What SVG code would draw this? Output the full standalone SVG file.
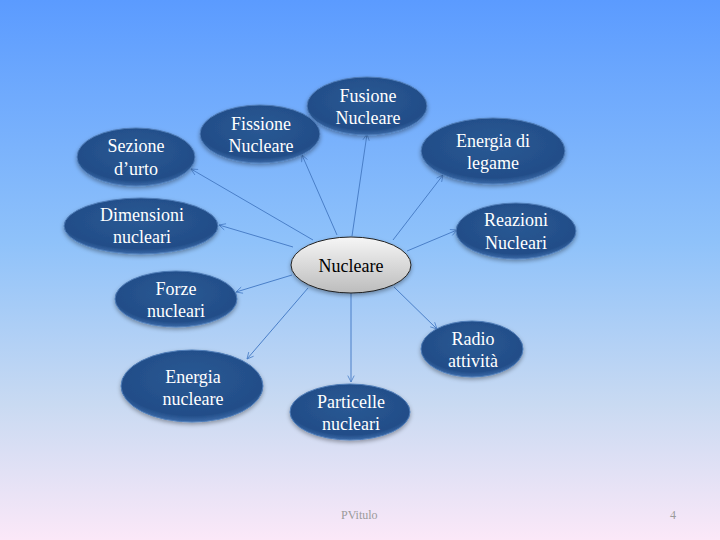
<svg xmlns="http://www.w3.org/2000/svg" width="720" height="540" viewBox="0 0 720 540">
<defs>
<linearGradient id="bg" x1="0" y1="0" x2="0" y2="1">
<stop offset="0" stop-color="#5b9bff"/>
<stop offset="0.45" stop-color="#8fc2fa"/>
<stop offset="0.75" stop-color="#c9daf2"/>
<stop offset="1" stop-color="#fbe8f8"/>
</linearGradient>
<radialGradient id="blue" cx="0.5" cy="0.4" r="0.6">
<stop offset="0" stop-color="#2a5994"/>
<stop offset="0.85" stop-color="#224d88"/>
<stop offset="1" stop-color="#3b6aa8"/>
</radialGradient>
<linearGradient id="gray" x1="0" y1="0" x2="0" y2="1">
<stop offset="0" stop-color="#f6f6f6"/>
<stop offset="1" stop-color="#bcbcbc"/>
</linearGradient>
<filter id="sh" x="-20%" y="-20%" width="140%" height="150%">
<feDropShadow dx="0" dy="2" stdDeviation="2" flood-color="#000" flood-opacity="0.35"/>
</filter>
<marker id="arr" viewBox="0 0 10 10" refX="9" refY="5" markerWidth="8" markerHeight="8" orient="auto" markerUnits="userSpaceOnUse">
<path d="M1,1 L9,5 L1,9" fill="none" stroke="#4a7fc8" stroke-width="1"/>
</marker>
<style>
.n{fill:url(#blue);stroke:#4f7db8;stroke-width:1;filter:url(#sh)}
.t{font-family:'Liberation Serif','DejaVu Serif',serif;font-size:18px;fill:#fff;text-anchor:middle}
.c{fill:none;stroke:#4a7fc8;stroke-width:1;marker-end:url(#arr)}
.f{font-family:'Liberation Serif','DejaVu Serif',serif;font-size:12px;fill:#9a9a9a}
</style>
</defs>
<rect width="720" height="540" fill="url(#bg)"/>
<g id="connectors">
<line class="c" x1="352" y1="236" x2="367" y2="134"/>
<line class="c" x1="337" y1="235" x2="302" y2="155"/>
<line class="c" x1="313" y1="240" x2="191" y2="169"/>
<line class="c" x1="293" y1="247" x2="219" y2="225"/>
<line class="c" x1="292" y1="275" x2="236" y2="292"/>
<line class="c" x1="308" y1="288" x2="247" y2="359"/>
<line class="c" x1="351" y1="293" x2="351" y2="382"/>
<line class="c" x1="394" y1="287" x2="437" y2="329"/>
<line class="c" x1="407" y1="251" x2="457" y2="230"/>
<line class="c" x1="393" y1="240" x2="443" y2="175"/>
</g>
<g font-family="Liberation Serif, DejaVu Serif, serif">
<g id="fusione"><ellipse class="n" cx="367" cy="106" rx="60" ry="29"/><text class="t" x="368" y="102">Fusione</text><text class="t" x="368" y="124">Nucleare</text></g>
<g id="fissione"><ellipse class="n" cx="260" cy="134" rx="60" ry="29"/><text class="t" x="261" y="130">Fissione</text><text class="t" x="261" y="152">Nucleare</text></g>
<g id="sezione"><ellipse class="n" cx="136" cy="157" rx="59" ry="29"/><text class="t" x="136" y="152">Sezione</text><text class="t" x="136" y="175">d’urto</text></g>
<g id="energia-legame"><ellipse class="n" cx="493" cy="151" rx="72" ry="33"/><text class="t" x="493" y="147">Energia di</text><text class="t" x="493" y="169">legame</text></g>
<g id="dimensioni"><ellipse class="n" cx="141" cy="226" rx="77" ry="28"/><text class="t" x="142" y="221">Dimensioni</text><text class="t" x="142" y="243">nucleari</text></g>
<g id="reazioni"><ellipse class="n" cx="516" cy="231" rx="60" ry="28"/><text class="t" x="516" y="226">Reazioni</text><text class="t" x="516" y="249">Nucleari</text></g>
<g id="forze"><ellipse class="n" cx="176" cy="299" rx="61" ry="28"/><text class="t" x="176" y="295">Forze</text><text class="t" x="176" y="317">nucleari</text></g>
<g id="radio"><ellipse class="n" cx="472" cy="349" rx="51" ry="28"/><text class="t" x="473" y="345">Radio</text><text class="t" x="473" y="367">attività</text></g>
<g id="energia-nucleare"><ellipse class="n" cx="192" cy="386" rx="71" ry="36"/><text class="t" x="193" y="383">Energia</text><text class="t" x="193" y="405">nucleare</text></g>
<g id="particelle"><ellipse class="n" cx="350" cy="412" rx="60" ry="28"/><text class="t" x="351" y="408">Particelle</text><text class="t" x="351" y="430">nucleari</text></g>
<g id="nucleare"><ellipse cx="351" cy="265" rx="60" ry="28" fill="url(#gray)" stroke="#222" stroke-width="1" filter="url(#sh)"/><text class="t" x="351" y="272" style="fill:#000">Nucleare</text></g>
<text class="f" x="341" y="519">PVitulo</text>
<text class="f" x="670" y="519">4</text>
</g>
</svg>
